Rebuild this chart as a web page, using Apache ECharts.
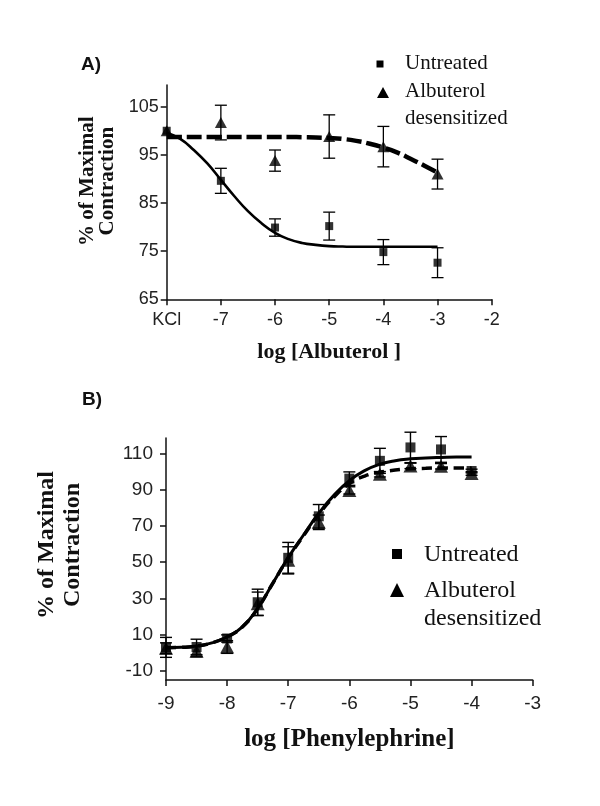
<!DOCTYPE html>
<html lang="en">
<head>
	<meta charset="UTF-8">
	<title>Albuterol / Phenylephrine contraction</title>
	<script src="https://cdn.jsdelivr.net/npm/echarts@6/dist/echarts.min.js"></script>
	<style>
		html, body { margin:0; padding:0; background:#fff; }
		#chart { width:600px; height:806px; }
	</style>
</head>
<body>
	<div id="chart"></div>

	<script>
	/* A) log [Albuterol] - KCl sits at -8 */
	var aX = [-8, -7, -6, -5, -4, -3];
	var aUntreated = [100, 89.6, 79.9, 80.2, 74.8, 72.6];
	var aUntreatedErr = [0, 2.6, 1.8, 2.9, 2.6, 3.1];
	var aAlbuterol = [100, 101.7, 93.8, 98.8, 96.7, 91.0];
	var aAlbuterolErr = [0, 3.6, 2.2, 4.5, 4.2, 3.1];

	// fitted curves, every 0.25 log unit
	var aFitX = [-8, -7.75, -7.5, -7.25, -7, -6.75, -6.5, -6.25, -6, -5.75, -5.5, -5.25, -5, -4.75, -4.5, -4.25, -4, -3.75, -3.5, -3.25, -3];
	var aFitUntreated = [99.6, 98.3, 96.0, 93.2, 89.8, 86.4, 83.3, 80.8, 78.8, 77.5, 76.7, 76.3, 76.05, 75.95, 75.9, 75.9, 75.9, 75.9, 75.9, 75.9, 75.9];
	var aFitAlbuterol = [98.7, 98.7, 98.7, 98.7, 98.7, 98.7, 98.7, 98.7, 98.7, 98.7, 98.65, 98.6, 98.5, 98.3, 97.9, 97.3, 96.5, 95.5, 94.2, 92.8, 91.3];

	var aYTicks = [65, 75, 85, 95, 105];

	/* B) log [Phenylephrine] */
	var bX = [-9, -8.5, -8, -7.5, -7, -6.5, -6, -5.5, -5, -4.5, -4];
	var bUntreated = [3.0, 3.2, 7.9, 27.9, 52.4, 75.3, 96.1, 105.9, 113.3, 112.2, 100.3];
	var bUntreatedErr = [5.5, 4.3, 2.0, 7.2, 8.5, 6.5, 3.7, 6.9, 8.4, 7.1, 1.0];
	var bAlbuterol = [2.5, 0.8, 3.2, 27.0, 51.0, 72.0, 89.6, 98.5, 103.1, 102.9, 98.9];
	var bAlbuterolErr = [3.0, 3.0, 3.5, 6.5, 7.5, 4.0, 2.0, 1.5, 1.5, 1.5, 1.0];

	var bFitX = [-9, -8.75, -8.5, -8.25, -8, -7.75, -7.5, -7.25, -7, -6.75, -6.5, -6.25, -6, -5.75, -5.5, -5.25, -5, -4.75, -4.5, -4.25, -4];
	var bFitUntreated = [2.8, 3.0, 3.7, 5.5, 8.8, 14.3, 24.5, 38.5, 52.5, 65.0, 77.0, 87.0, 95.0, 100.5, 104.0, 106.0, 107.0, 107.5, 107.8, 108.0, 108.0];
	var bFitAlbuterol = [2.8, 3.0, 3.7, 5.5, 8.8, 14.3, 24.5, 38.5, 52.3, 64.6, 76.4, 86.0, 93.3, 97.5, 99.6, 100.8, 101.5, 101.8, 102.0, 102.0, 102.0];

	var bYTicks = [-10, 10, 30, 50, 70, 90, 110];

	var SERIF = 'Liberation Serif, DejaVu Serif, serif';
	var SANS = 'Liberation Sans, Arial, sans-serif';
	var INK = '#000';

	function zip(xs, ys) {
		return xs.map(function (x, i) { return [x, ys[i]]; });
	}
	function zipErr(xs, ys, es) {
		return xs.map(function (x, i) { return [x, ys[i], es[i]]; });
	}

	// error bar: vertical line with a cap at each end
	function errorBar(cap, lw) {
		return function (params, api) {
			var x = api.value(0), y = api.value(1), e = api.value(2);
			if (!e) return null;
			var hi = api.coord([x, y + e]);
			var lo = api.coord([x, y - e]);
			var st = { stroke: INK, lineWidth: lw };
			return {
				type: 'group',
				children: [
					{ type: 'line', shape: { x1: hi[0], y1: hi[1], x2: lo[0], y2: lo[1] }, style: st },
					{ type: 'line', shape: { x1: hi[0] - cap, y1: hi[1], x2: hi[0] + cap, y2: hi[1] }, style: st },
					{ type: 'line', shape: { x1: lo[0] - cap, y1: lo[1], x2: lo[0] + cap, y2: lo[1] }, style: st }
				]
			};
		};
	}

	function axisCommon(fontSize, margin) {
		return {
			axisLine: { show: true, onZero: false, lineStyle: { color: '#111', width: 1.5 } },
			axisTick: { show: true, length: 6, lineStyle: { color: '#111', width: 1.5 } },
			axisLabel: { color: '#222', fontFamily: SANS, fontSize: fontSize, margin: margin },
			splitLine: { show: false }
		};
	}

	var xA = axisCommon(18, 12);
	xA.gridIndex = 0; xA.type = 'value'; xA.min = -8; xA.max = -2; xA.interval = 1;
	xA.axisLabel.formatter = function (v) { return v === -8 ? 'KCl' : String(v); };
	xA.name = 'log [Albuterol ]'; xA.nameLocation = 'middle'; xA.nameGap = 42;
	xA.nameTextStyle = { fontFamily: SERIF, fontWeight: 'bold', fontSize: 22, color: '#111' };

	var yA = axisCommon(18, 8);
	yA.gridIndex = 0; yA.type = 'value'; yA.min = 65; yA.max = 109.5;
	yA.axisLabel.customValues = aYTicks;
	yA.axisTick.customValues = aYTicks;
	yA.name = '% of Maximal\nContraction'; yA.nameLocation = 'middle'; yA.nameGap = 47;
	yA.nameTextStyle = { fontFamily: SERIF, fontWeight: 'bold', fontSize: 21, lineHeight: 20, color: '#111', padding: [0, 0, 0, 22] };

	var xB = axisCommon(19, 14);
	xB.gridIndex = 1; xB.type = 'value'; xB.min = -9; xB.max = -3; xB.interval = 1;
	xB.name = 'log [Phenylephrine]'; xB.nameLocation = 'middle'; xB.nameGap = 47;
	xB.nameTextStyle = { fontFamily: SERIF, fontWeight: 'bold', fontSize: 25, color: '#111' };

	var yB = axisCommon(19, 13);
	yB.gridIndex = 1; yB.type = 'value'; yB.min = -15; yB.max = 118.5;
	yB.axisLabel.customValues = bYTicks;
	yB.axisTick.customValues = bYTicks;
	yB.name = '% of Maximal\nContraction'; yB.nameLocation = 'middle'; yB.nameGap = 80;
	yB.nameTextStyle = { fontFamily: SERIF, fontWeight: 'bold', fontSize: 24, lineHeight: 26, color: '#111', padding: [0, 0, 0, 28] };

	function legendText(txt, x, y, size) {
		return { type: 'text', left: x, top: y - size / 2 - 1, style: { text: txt, fill: '#111', font: size + 'px ' + SERIF } };
	}

	var chart = echarts.init(document.getElementById('chart'), null, { renderer: 'canvas' });
	var option = {
		animation: false,
		backgroundColor: '#fff',
		grid: [
			{ left: 166.7, top: 85, width: 325, height: 214.3 },
			{ left: 166, top: 438, width: 366.7, height: 242 }
		],
		xAxis: [xA, xB],
		yAxis: [yA, yB],
		graphic: [
			{ type: 'text', left: 81, top: 55, style: { text: 'A)', fill: '#111', font: 'bold 19px ' + SANS } },
			{ type: 'text', left: 82, top: 390, style: { text: 'B)', fill: '#111', font: 'bold 19px ' + SANS } },
			// legend A
			{ type: 'rect', shape: { x: 376.5, y: 60.5, width: 7, height: 7 }, style: { fill: INK } },
			{ type: 'polygon', shape: { points: [[383, 87], [377, 98], [389, 98]] }, style: { fill: INK } },
			legendText('Untreated', 405, 64, 21),
			legendText('Albuterol', 405, 92, 21),
			legendText('desensitized', 405, 119, 21),
			// legend B
			{ type: 'rect', shape: { x: 392, y: 549, width: 10, height: 10 }, style: { fill: INK } },
			{ type: 'polygon', shape: { points: [[397, 583], [390, 597], [404, 597]] }, style: { fill: INK } },
			legendText('Untreated', 424, 556, 24),
			legendText('Albuterol', 424, 592, 24),
			legendText('desensitized', 424, 620, 24)
		],
		series: [
			/* A */
			{ type: 'line', xAxisIndex: 0, yAxisIndex: 0, data: zip(aFitX, aFitUntreated), showSymbol: false, smooth: 0.5,
				lineStyle: { color: INK, width: 2.6 }, z: 2 },
			{ type: 'line', xAxisIndex: 0, yAxisIndex: 0, data: zip(aFitX, aFitAlbuterol), showSymbol: false, smooth: 0.5,
				lineStyle: { color: INK, width: 4.5, type: [15, 5] }, z: 2 },
			{ type: 'custom', xAxisIndex: 0, yAxisIndex: 0, data: zipErr(aX, aUntreated, aUntreatedErr), renderItem: errorBar(6, 1.3), z: 3 },
			{ type: 'custom', xAxisIndex: 0, yAxisIndex: 0, data: zipErr(aX, aAlbuterol, aAlbuterolErr), renderItem: errorBar(6, 1.3), z: 3 },
			{ type: 'scatter', xAxisIndex: 0, yAxisIndex: 0, data: zip(aX, aUntreated), symbol: 'rect', symbolSize: 8, itemStyle: { color: INK }, z: 4 },
			{ type: 'scatter', xAxisIndex: 0, yAxisIndex: 0, data: zip(aX, aAlbuterol), symbol: 'triangle', symbolSize: [12, 11], itemStyle: { color: INK }, z: 4 },
			/* B */
			{ type: 'line', xAxisIndex: 1, yAxisIndex: 1, data: zip(bFitX, bFitUntreated), showSymbol: false, smooth: 0.5,
				lineStyle: { color: INK, width: 3 }, z: 2 },
			{ type: 'line', xAxisIndex: 1, yAxisIndex: 1, data: zip(bFitX, bFitAlbuterol), showSymbol: false, smooth: 0.5,
				lineStyle: { color: INK, width: 3.5, type: [10, 6] }, z: 2 },
			{ type: 'custom', xAxisIndex: 1, yAxisIndex: 1, data: zipErr(bX, bUntreated, bUntreatedErr), renderItem: errorBar(6, 1.4), z: 3 },
			{ type: 'custom', xAxisIndex: 1, yAxisIndex: 1, data: zipErr(bX, bAlbuterol, bAlbuterolErr), renderItem: errorBar(6, 1.4), z: 3 },
			{ type: 'scatter', xAxisIndex: 1, yAxisIndex: 1, data: zip(bX, bUntreated), symbol: 'rect', symbolSize: 10, itemStyle: { color: INK }, z: 4 },
			{ type: 'scatter', xAxisIndex: 1, yAxisIndex: 1, data: zip(bX, bAlbuterol), symbol: 'triangle', symbolSize: [14, 13], itemStyle: { color: INK }, z: 4 }
		]
	};
	chart.setOption(option);
	</script>
</body>
</html>
